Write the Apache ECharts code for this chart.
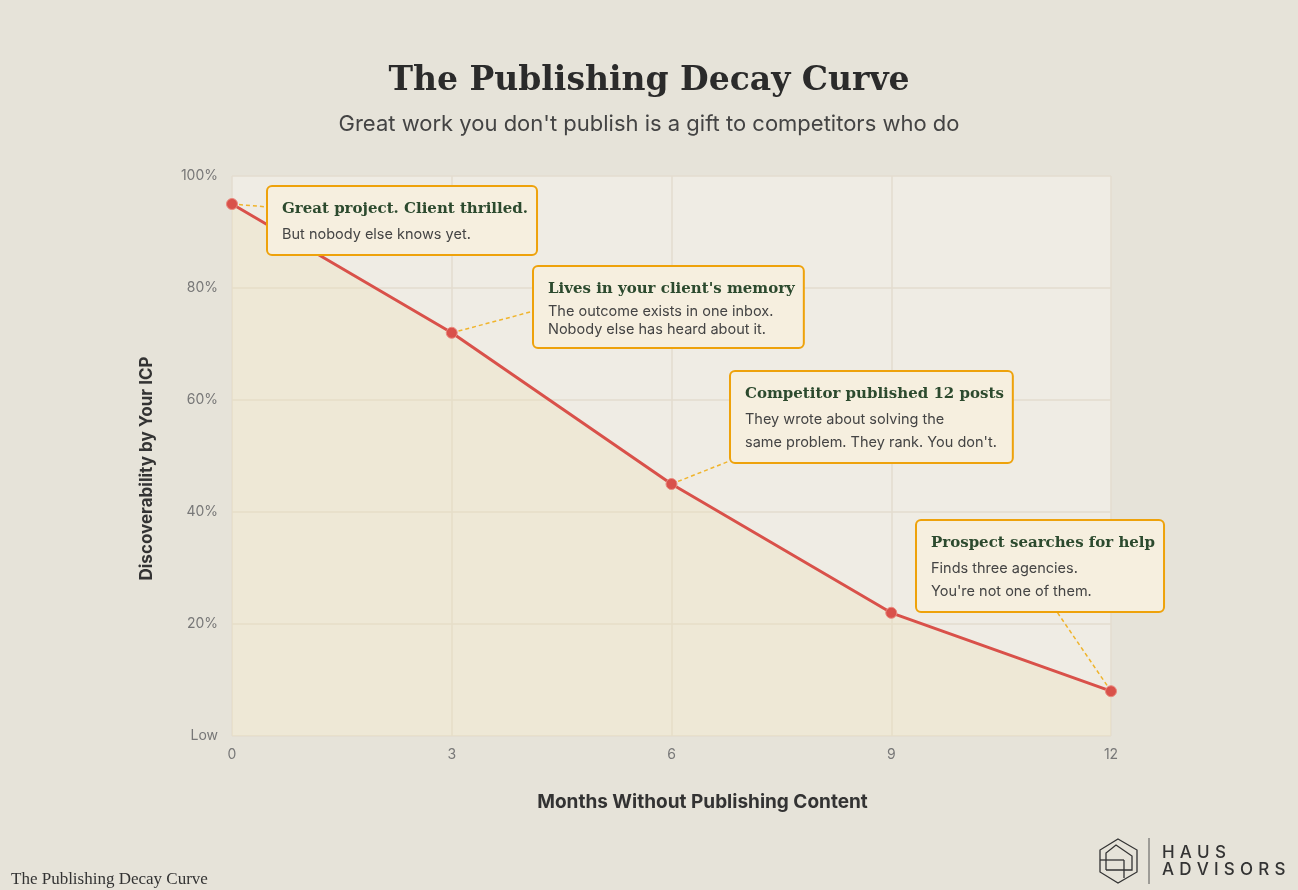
<!DOCTYPE html>
<html>
<head>
<meta charset="utf-8">
<script src="https://cdn.jsdelivr.net/npm/echarts@6/dist/echarts.min.js"></script>
<style>
html,body{margin:0;padding:0;background:#e6e3d9;}
#chart{width:1298px;height:890px;}
</style>
</head>
<body>
<div id="chart"></div>
<script>
const months = [0, 3, 6, 9, 12];
const discoverability = [95, 72, 45, 22, 8];
const yTickLabels = { 0: 'Low', 20: '20%', 40: '40%', 60: '60%', 80: '80%', 100: '100%' };
const noteTitles = [
  'Great project. Client thrilled.',
  "Lives in your client's memory",
  'Competitor published 12 posts',
  'Prospect searches for help'
];
const noteBodies = [
  ['But nobody else knows yet.'],
  ['The outcome exists in one inbox.', 'Nobody else has heard about it.'],
  ['They wrote about solving the', "same problem. They rank. You don't."],
  ['Finds three agencies.', "You're not one of them."]
];
// data index -> note index
const noteForPoint = [0, 1, 2, -1, 3];

const chart = echarts.init(document.getElementById('chart'));

const SERIF = '"DejaVu Serif", serif';
const SANS = 'Inter, "Noto Sans", sans-serif';

// annotation box layout: top-left position and connector end (relative to box)
const boxLayout = {
  0: { pos: [268, 187], end: [0, 20] },
  1: { pos: [534, 267], end: [0, 44] },
  2: { pos: [731, 372], end: [1, 88] },
  4: { pos: [917, 521], end: [138, 88] }
};

const seriesData = months.map((m, i) => {
  const n = noteForPoint[i];
  const item = { value: [m, discoverability[i]] };
  if (n >= 0) {
    const bodyStyle = i === 1 ? 'b2' : 'b';
    const body = noteBodies[n].map(t => '{' + bodyStyle + '|' + t + '}').join('\n');
    item.label = {
      show: true,
      formatter: '{t|' + noteTitles[n] + '}\n' + body
    };
  }
  return item;
});

const option = {
  backgroundColor: '#e6e3d9',
  title: [
    {
      text: 'The Publishing Decay Curve',
      left: 'center', top: 60,
      textStyle: { fontFamily: SERIF, fontWeight: 'bold', fontSize: 33, color: '#2b2b2b' }
    },
    {
      text: "Great work you don't publish is a gift to competitors who do",
      left: 'center', top: 108,
      textStyle: { fontFamily: SANS, fontWeight: 'normal', fontSize: 22, color: '#444' }
    },
    {
      text: 'The Publishing Decay Curve',
      left: 11, top: 871, padding: 0,
      textStyle: { fontFamily: '"Liberation Serif", serif', fontWeight: 'normal', fontSize: 17, color: '#333' }
    }
  ],
  grid: {
    left: 232, right: 187, top: 176, bottom: 154,
    show: true, backgroundColor: '#efece4', borderWidth: 0
  },
  xAxis: {
    type: 'value', min: 0, max: 12, interval: 3,
    name: 'Months Without Publishing Content',
    nameLocation: 'middle', nameGap: 57,
    nameTextStyle: { fontFamily: SANS, fontWeight: 'bold', fontSize: 19, color: '#333', padding: [0, 0, 0, 62] },
    axisLine: { show: false }, axisTick: { show: false },
    axisLabel: { fontFamily: SANS, fontSize: 14, color: '#777', margin: 12 },
    splitLine: { show: true, lineStyle: { color: '#e3ddcf', width: 1.5 } }
  },
  yAxis: {
    type: 'value', min: 0, max: 100, interval: 20,
    name: 'Discoverability by Your ICP',
    nameLocation: 'middle', nameGap: 77,
    nameTextStyle: { fontFamily: SANS, fontWeight: 'bold', fontSize: 17, color: '#333', padding: [0, 25, 0, 0] },
    axisLine: { show: false }, axisTick: { show: false },
    axisLabel: { fontFamily: SANS, fontSize: 14, color: '#777', margin: 14,
      formatter: v => yTickLabels[v] },
    splitLine: { show: true, lineStyle: { color: '#e3ddcf', width: 1.5 } }
  },
  series: [{
    type: 'line',
    data: seriesData,
    symbol: 'circle', symbolSize: 11,
    lineStyle: { color: '#d9514a', width: 3 },
    itemStyle: { color: '#d9514a', borderColor: '#e98a7f', borderWidth: 1 },
    areaStyle: { color: 'rgba(236,222,185,0.45)' },
    label: {
      show: false,
      align: 'left', verticalAlign: 'top',
      backgroundColor: '#f6efdf', borderColor: '#eea20b', borderWidth: 2, borderRadius: 4,
      padding: [8, 8, 8, 14],
      rich: {
        t: { fontFamily: SERIF, fontWeight: 'bold', fontSize: 15, color: '#2c4a2e', lineHeight: 28 },
        b: { fontFamily: SANS, fontSize: 14.5, color: '#444', lineHeight: 23 },
        b2: { fontFamily: SANS, fontSize: 14.5, color: '#444', lineHeight: 18 }
      }
    },
    labelLayout: function (p) {
      const L = boxLayout[p.dataIndex];
      if (!L) return {};
      return { x: L.pos[0], y: L.pos[1], align: 'left', verticalAlign: 'top' };
    },
    z: 3
  }]
};

chart.setOption(option);

// graphics: connectors (from data points via the chart's scales) + logo
const graphics = [];
months.forEach((m, i) => {
  const L = boxLayout[i];
  if (!L) return;
  const p = chart.convertToPixel({ gridIndex: 0 }, [m, discoverability[i]]);
  graphics.push({
    type: 'line', z: 2,
    shape: { x1: p[0], y1: p[1], x2: L.pos[0] + L.end[0], y2: L.pos[1] + L.end[1] },
    style: { stroke: '#f0b42c', lineWidth: 1.5, lineDash: [4, 3] }
  });
});

graphics.push(
  {
    type: 'polygon',
    shape: { points: [[1118, 839], [1137, 850], [1137, 872], [1118, 883], [1100, 872], [1100, 850]] },
    style: { fill: 'none', stroke: '#333', lineWidth: 1.3 }
  },
  {
    type: 'polyline',
    shape: { points: [[1106, 870], [1106, 853], [1116, 845], [1132, 856], [1132, 870], [1106, 870]] },
    style: { fill: 'none', stroke: '#333', lineWidth: 1.3 }
  },
  {
    type: 'line',
    shape: { x1: 1100, y1: 860, x2: 1124, y2: 860 },
    style: { stroke: '#333', lineWidth: 1.3 }
  },
  {
    type: 'line',
    shape: { x1: 1124, y1: 860, x2: 1124, y2: 878 },
    style: { stroke: '#333', lineWidth: 1.3 }
  },
  {
    type: 'line',
    shape: { x1: 1149, y1: 838, x2: 1149, y2: 884 },
    style: { stroke: '#555', lineWidth: 1 }
  }
);

const mctx = document.createElement('canvas').getContext('2d');
function spaced(str, x, y, font, gap) {
  mctx.font = font;
  let cx = x;
  for (let i = 0; i < str.length; i++) {
    graphics.push({
      type: 'text', x: cx, y: y,
      style: { text: str[i], fill: '#333', font: font, textVerticalAlign: 'middle' }
    });
    cx += mctx.measureText(str[i]).width + gap;
  }
}
const logoFont = '500 17px Inter';
spaced('HAUS', 1162, 853, logoFont, 5.2);
spaced('ADVISORS', 1162, 870, logoFont, 5.2);

chart.setOption({ graphic: graphics });
</script>
</body>
</html>
